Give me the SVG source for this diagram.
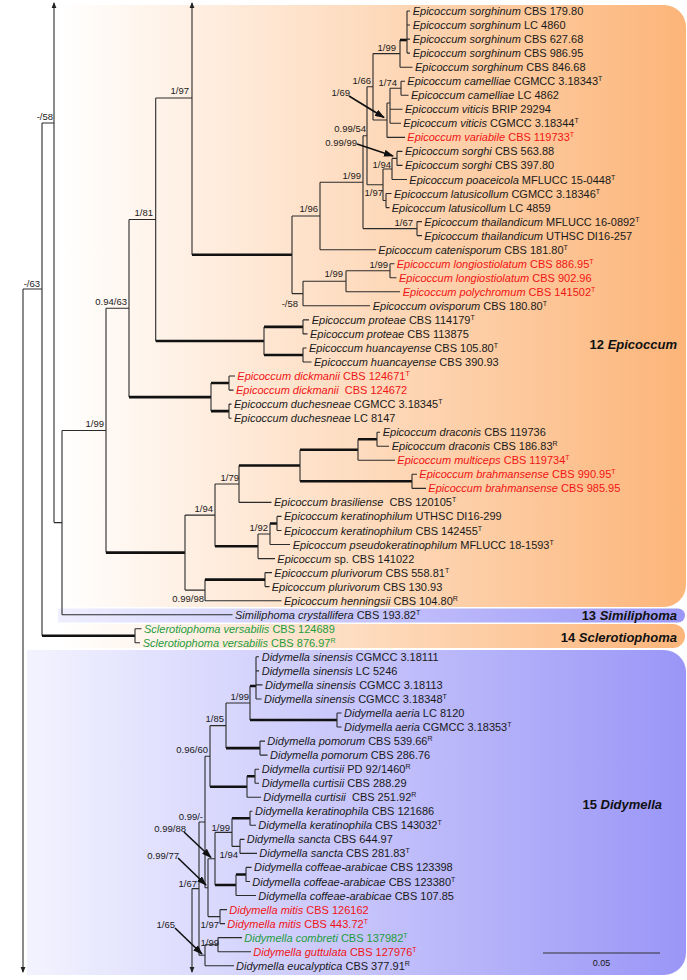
<svg xmlns="http://www.w3.org/2000/svg" width="687" height="980" viewBox="0 0 687 980">
<defs>
<linearGradient id="gOr" gradientUnits="userSpaceOnUse" x1="58" y1="0" x2="686" y2="0"><stop offset="0" stop-color="#ffffff"/><stop offset="1" stop-color="#fcb579"/></linearGradient>
<linearGradient id="gBl" gradientUnits="userSpaceOnUse" x1="27" y1="0" x2="686" y2="0"><stop offset="0" stop-color="#f3f3ff"/><stop offset="1" stop-color="#9a96f7"/></linearGradient>
<marker id="ah" markerWidth="10" markerHeight="7" refX="9" refY="3.5" orient="auto" markerUnits="userSpaceOnUse"><path d="M0,0 L10,3.5 L0,7 z" fill="#111"/></marker>
<marker id="tip" markerWidth="6" markerHeight="6" refX="5" refY="3" orient="auto" markerUnits="userSpaceOnUse"><path d="M0,0.6 L6,3 L0,5.4 z" fill="#222"/></marker>
<style>
.br{fill:none;stroke:#2b2b2b;stroke-width:1.1}
.tk{fill:none;stroke:#111;stroke-width:2.6}
.ar{fill:none;stroke:#2b2b2b;stroke-width:1.1;marker-end:url(#tip)}
.ann{fill:none;stroke:#111;stroke-width:1.6;marker-end:url(#ah)}
.tx{font-family:"Liberation Sans",Arial,sans-serif;font-size:11px;fill:#1a1a1a}
.i{font-style:italic}
.sup{font-size:7px}
.red{fill:#f01414}
.grn{fill:#1e9c3c}
.sv{font-family:"Liberation Sans",Arial,sans-serif;font-size:9.5px;fill:#1a1a1a;text-anchor:end}
.cl{font-family:"Liberation Sans",Arial,sans-serif;font-size:13px;font-weight:bold;fill:#111;text-anchor:end}
.sc{font-family:"Liberation Sans",Arial,sans-serif;font-size:9px;fill:#1a1a1a;text-anchor:middle}
</style>
</defs>
<g id="bands">
<path d="M58,5 H664 A22,22 0 0 1 686,27 V585 A22,22 0 0 1 664,607 H58 Z" fill="url(#gOr)"/>
<path d="M58,608.5 H678 A7,7 0 0 1 678,622.5 H58 Z" fill="url(#gBl)"/>
<path d="M45,624 H673 A12,12 0 0 1 673,648 H45 Z" fill="url(#gOr)"/>
<path d="M27,650 H664 A22,22 0 0 1 686,672 V953 A22,22 0 0 1 664,975 H27 Z" fill="url(#gBl)"/>
</g>
<g id="connectors">
<path class="br" d="M23,289 H42 M42,123 V635.8 M42,123 H54 M54,522.6 H62 M62,430.5 V614.7"/>
<path class="ar" d="M23,289 V972"/>
<path class="ar" d="M54,522.6 V3"/>
<path class="ar" d="M192,254.8 V3"/>
<path class="ar" d="M192,888.6 V972"/>
<path class="tk" d="M42,635.8 H135"/>
<path class="br" d="M135,628.8 V642.8 M135,628.8 H141.5 M135,642.8 H140 M62,614.7 H232.5"/>
<path class="br" d="M62,430.5 H106 M106,308.3 V552.6 M106,308.3 H129 M129,219.5 V397.1 M129,219.5 H155.7 M155.7,98 V341 M155.7,98 H192"/>
<path class="tk" d="M192,254.8 H292"/>
<path class="br" d="M292,216 V293.6 M292,216 H320 M320,182.2 V249.7 M320,249.7 H376 M320,182.2 H363 M363,135.8 V228.6 M363,228.6 H417 M417,221.6 V235.6 M417,221.6 H422 M417,235.6 H422"/>
<path class="br" d="M363,135.8 H367 M367,86.8 V184.7 M367,86.8 H373 M373,53.6 V120 M373,53.6 H400 M400,40 V67.2 M400,67.2 H412.5"/>
<path class="tk" d="M400,40 H407"/>
<path class="br" d="M407,11 V53.1 M407,11 H410 M407,25 H410 M407,39.1 H410 M407,53.1 H410"/>
<path class="br" d="M373,120 H387 M387,103 V137.4 M387,137.4 H405 M387,103 H390 M390,88.2 V123.3 M390,88.2 H401 M401,81.2 V95.2 M401,81.2 H405 M401,95.2 H408.5 M390,109.3 H402.5 M390,123.3 H401"/>
<path class="br" d="M367,184.7 H383 M383,169 V200.5 M383,169 H392 M392,158.4 V179.5 M392,158.4 H397 M397,151.4 V165.4 M397,151.4 H402.5 M397,165.4 H402.5 M392,179.5 H407 M383,200.5 H386 M386,193.5 V207.6 M386,193.5 H391.5 M386,207.6 H389.5"/>
<path class="br" d="M292,293.6 H303 M303,281.3 V305.8 M303,305.8 H370 M303,281.3 H346 M346,270.7 V291.8 M346,270.7 H390 M390,263.7 V277.8 M390,263.7 H394.5 M390,277.8 H396.5 M346,291.8 H400"/>
<path class="tk" d="M155.7,341 H264 M264,326.9 H303 M264,355 H303"/>
<path class="br" d="M264,326.9 V355 M303,319.9 V333.9 M303,319.9 H309 M303,333.9 H307.5 M303,348 V362 M303,348 H306.5 M303,362 H311.5"/>
<path class="tk" d="M129,397.1 H211 M211,383 H229 M211,411.1 H229"/>
<path class="br" d="M211,383 V411.1 M229,376 V390.1 M229,376 H235 M229,390.1 H233.5 M229,404.1 V418.2 M229,404.1 H231.5 M229,418.2 H231.5"/>
<path class="tk" d="M106,552.6 H185"/>
<path class="br" d="M185,515.1 V590.1 M185,515.1 H215 M215,484 V546.3 M215,484 H239 M239,465.5 V502.4 M239,502.4 H271.5"/>
<path class="tk" d="M239,465.5 H300 M300,449.7 H358 M358,439.2 H377 M300,481.3 H412"/>
<path class="br" d="M300,449.7 V481.3 M358,439.2 V460.3 M377,432.2 V446.2 M377,432.2 H380 M377,446.2 H389 M358,460.3 H395 M412,474.3 V488.4 M412,474.3 H417 M412,488.4 H426"/>
<path class="tk" d="M215,546.3 H258 M270,523.5 H277"/>
<path class="br" d="M258,534 V558.6 M258,534 H270 M270,523.5 V544.5 M277,516.4 V530.5 M277,516.4 H281.5 M277,530.5 H281.5 M270,544.5 H290 M258,558.6 H275"/>
<path class="br" d="M185,590.1 H205 M205,579.6 V600.7 M265,572.6 V586.6 M265,572.6 H272 M265,586.6 H269.5 M205,600.7 H281.5"/>
<path class="tk" d="M205,579.6 H265"/>
<path class="tk" d="M250,686 H256 M250,720 H337 M226,748.1 H260 M210,786.7 H247 M247,776.2 H255 M232,818.3 H250 M215,885 H236 M236,874.5 H246"/>
<path class="br" d="M256,656.8 V699 M256,656.8 H259 M256,670.9 H259 M256,684.9 H262.5 M256,699 H261.5 M250,686 V720 M337,713 V727 M337,713 H341.5 M337,727 H341.5 M226,703 H250 M226,703 V748.1 M260,741.1 V755.1 M260,741.1 H265 M260,755.1 H267.5"/>
<path class="br" d="M210,725.6 H226 M210,725.6 V786.7 M247,776.2 V797.2 M255,769.2 V783.2 M255,769.2 H259 M255,783.2 H259 M247,797.2 H261 M205,756.2 H210 M205,756.2 V887.7 M199,822 H205 M199,822 V955.2 M192,888.6 H199"/>
<path class="br" d="M205,887.7 H208 M208,858.7 V916.6 M208,858.7 H215 M215,832.4 V885 M215,832.4 H232 M232,818.3 V846.4 M250,811.3 V825.3 M250,811.3 H252.5 M250,825.3 H256 M232,846.4 H240 M240,839.4 V853.4 M240,839.4 H244.5 M240,853.4 H257 M236,874.5 V895.5 M246,867.4 V881.5 M246,867.4 H251.5 M246,881.5 H250 M236,895.5 H256"/>
<path class="br" d="M208,916.6 H220 M220,909.6 V923.6 M220,909.6 H227 M220,923.6 H225 M199,955.2 H205 M205,944.7 V965.7 M205,944.7 H218 M218,937.6 V951.7 M218,937.6 H242 M218,951.7 H251 M205,965.7 H234"/>
<path class="ann" d="M349,96 L384,117.5"/>
<path class="ann" d="M357,144 L393,156"/>
<path class="ann" d="M184,832 L211,857.5"/>
<path class="ann" d="M178,858 L206,885"/>
<path class="ann" d="M175,928 L202,954"/>
</g>
<g id="supports">
<text class="sv" x="53" y="120">-/58</text>
<text class="sv" x="40" y="286.5">-/63</text>
<text class="sv" x="189" y="94">1/97</text>
<text class="sv" x="153" y="215.5">1/81</text>
<text class="sv" x="127" y="305">0.94/63</text>
<text class="sv" x="104" y="427">1/99</text>
<text class="sv" x="318" y="212">1/96</text>
<text class="sv" x="361" y="178.5">1/99</text>
<text class="sv" x="366" y="132">0.99/54</text>
<text class="sv" x="371" y="83.5">1/66</text>
<text class="sv" x="396" y="51">1/99</text>
<text class="sv" x="397" y="86">1/74</text>
<text class="sv" x="350" y="96">1/69</text>
<text class="sv" x="357" y="145.5">0.99/99</text>
<text class="sv" x="391" y="167.5">1/94</text>
<text class="sv" x="383" y="195.5">1/97</text>
<text class="sv" x="413" y="226">1/67</text>
<text class="sv" x="388" y="268">1/99</text>
<text class="sv" x="343" y="277">1/99</text>
<text class="sv" x="298" y="306.5">-/58</text>
<text class="sv" x="239" y="480.5">1/79</text>
<text class="sv" x="213" y="511.5">1/94</text>
<text class="sv" x="268" y="531">1/92</text>
<text class="sv" x="204" y="601.5">0.99/98</text>
<text class="sv" x="249" y="700">1/99</text>
<text class="sv" x="224" y="721.5">1/85</text>
<text class="sv" x="208" y="753">0.96/60</text>
<text class="sv" x="203" y="820">0.99/-</text>
<text class="sv" x="230" y="831">1/99</text>
<text class="sv" x="186" y="831.5">0.99/88</text>
<text class="sv" x="238" y="858">1/94</text>
<text class="sv" x="179" y="858.5">0.99/77</text>
<text class="sv" x="197" y="887">1/67</text>
<text class="sv" x="219" y="927.5">1/97</text>
<text class="sv" x="175" y="928">1/65</text>
<text class="sv" x="219" y="945.5">1/99</text>
</g>
<g id="t01"><text class="tx" x="412.7" y="15"><tspan class="i">Epicoccum sorghinum</tspan> CBS 179.80</text></g>
<g id="t02"><text class="tx" x="412.7" y="29"><tspan class="i">Epicoccum sorghinum</tspan> LC 4860</text></g>
<g id="t03"><text class="tx" x="412.7" y="43.1"><tspan class="i">Epicoccum sorghinum</tspan> CBS 627.68</text></g>
<g id="t04"><text class="tx" x="412.7" y="57.1"><tspan class="i">Epicoccum sorghinum</tspan> CBS 986.95</text></g>
<g id="t05"><text class="tx" x="415" y="71.2"><tspan class="i">Epicoccum sorghinum</tspan> CBS 846.68</text></g>
<g id="t06"><text class="tx" x="407.3" y="85.2"><tspan class="i">Epicoccum camelliae</tspan> CGMCC 3.18343<tspan class="sup" dy="-4">T</tspan></text></g>
<g id="t07"><text class="tx" x="411" y="99.2"><tspan class="i">Epicoccum camelliae</tspan> LC 4862</text></g>
<g id="t08"><text class="tx" x="405" y="113.3"><tspan class="i">Epicoccum viticis</tspan> BRIP 29294</text></g>
<g id="t09"><text class="tx" x="403.3" y="127.3"><tspan class="i">Epicoccum viticis</tspan> CGMCC 3.18344<tspan class="sup" dy="-4">T</tspan></text></g>
<g id="t10"><text class="tx red" x="407.3" y="141.4"><tspan class="i">Epicoccum variabile</tspan> CBS 119733<tspan class="sup" dy="-4">T</tspan></text></g>
<g id="t11"><text class="tx" x="405" y="155.4"><tspan class="i">Epicoccum sorghi</tspan> CBS 563.88</text></g>
<g id="t12"><text class="tx" x="405" y="169.4"><tspan class="i">Epicoccum sorghi</tspan> CBS 397.80</text></g>
<g id="t13"><text class="tx" x="409.3" y="183.5"><tspan class="i">Epicoccum poaceicola</tspan> MFLUCC 15-0448<tspan class="sup" dy="-4">T</tspan></text></g>
<g id="t14"><text class="tx" x="394" y="197.5"><tspan class="i">Epicoccum latusicollum</tspan> CGMCC 3.18346<tspan class="sup" dy="-4">T</tspan></text></g>
<g id="t15"><text class="tx" x="391.7" y="211.6"><tspan class="i">Epicoccum latusicollum</tspan> LC 4859</text></g>
<g id="t16"><text class="tx" x="424.3" y="225.6"><tspan class="i">Epicoccum thailandicum</tspan> MFLUCC 16-0892<tspan class="sup" dy="-4">T</tspan></text></g>
<g id="t17"><text class="tx" x="424.3" y="239.6"><tspan class="i">Epicoccum thailandicum</tspan> UTHSC DI16-257</text></g>
<g id="t18"><text class="tx" x="378.3" y="253.7"><tspan class="i">Epicoccum catenisporum</tspan> CBS 181.80<tspan class="sup" dy="-4">T</tspan></text></g>
<g id="t19"><text class="tx red" x="396.7" y="267.7"><tspan class="i">Epicoccum longiostiolatum</tspan> CBS 886.95<tspan class="sup" dy="-4">T</tspan></text></g>
<g id="t20"><text class="tx red" x="399" y="281.8"><tspan class="i">Epicoccum longiostiolatum</tspan> CBS 902.96</text></g>
<g id="t21"><text class="tx red" x="402.7" y="295.8"><tspan class="i">Epicoccum polychromum</tspan> CBS 141502<tspan class="sup" dy="-4">T</tspan></text></g>
<g id="t22"><text class="tx" x="372.7" y="309.8"><tspan class="i">Epicoccum ovisporum</tspan> CBS 180.80<tspan class="sup" dy="-4">T</tspan></text></g>
<g id="t23"><text class="tx" x="311.7" y="323.9"><tspan class="i">Epicoccum proteae</tspan> CBS 114179<tspan class="sup" dy="-4">T</tspan></text></g>
<g id="t24"><text class="tx" x="310" y="337.9"><tspan class="i">Epicoccum proteae</tspan> CBS 113875</text></g>
<g id="t25"><text class="tx" x="309" y="352"><tspan class="i">Epicoccum huancayense</tspan> CBS 105.80<tspan class="sup" dy="-4">T</tspan></text></g>
<g id="t26"><text class="tx" x="314" y="366"><tspan class="i">Epicoccum huancayense</tspan> CBS 390.93</text></g>
<g id="t27"><text class="tx red" x="237.3" y="380"><tspan class="i">Epicoccum dickmanii</tspan> CBS 124671<tspan class="sup" dy="-4">T</tspan></text></g>
<g id="t28"><text class="tx red" x="236" y="394.1" xml:space="preserve"><tspan class="i">Epicoccum dickmanii</tspan>  CBS 124672</text></g>
<g id="t29"><text class="tx" x="234" y="408.1"><tspan class="i">Epicoccum duchesneae</tspan> CGMCC 3.18345<tspan class="sup" dy="-4">T</tspan></text></g>
<g id="t30"><text class="tx" x="234" y="422.2"><tspan class="i">Epicoccum duchesneae</tspan> LC 8147</text></g>
<g id="t31"><text class="tx" x="382.7" y="436.2"><tspan class="i">Epicoccum draconis</tspan> CBS 119736</text></g>
<g id="t32"><text class="tx" x="391.7" y="450.2"><tspan class="i">Epicoccum draconis</tspan> CBS 186.83<tspan class="sup" dy="-4">R</tspan></text></g>
<g id="t33"><text class="tx red" x="397.3" y="464.3"><tspan class="i">Epicoccum multiceps</tspan> CBS 119734<tspan class="sup" dy="-4">T</tspan></text></g>
<g id="t34"><text class="tx red" x="419.3" y="478.3"><tspan class="i">Epicoccum brahmansense</tspan> CBS 990.95<tspan class="sup" dy="-4">T</tspan></text></g>
<g id="t35"><text class="tx red" x="428.3" y="492.4"><tspan class="i">Epicoccum brahmansense</tspan> CBS 985.95</text></g>
<g id="t36"><text class="tx" x="274" y="506.4" xml:space="preserve"><tspan class="i">Epicoccum brasiliense</tspan>  CBS 120105<tspan class="sup" dy="-4">T</tspan></text></g>
<g id="t37"><text class="tx" x="284" y="520.4"><tspan class="i">Epicoccum keratinophilum</tspan> UTHSC DI16-299</text></g>
<g id="t38"><text class="tx" x="284" y="534.5"><tspan class="i">Epicoccum keratinophilum</tspan> CBS 142455<tspan class="sup" dy="-4">T</tspan></text></g>
<g id="t39"><text class="tx" x="292.7" y="548.5"><tspan class="i">Epicoccum pseudokeratinophilum</tspan> MFLUCC 18-1593<tspan class="sup" dy="-4">T</tspan></text></g>
<g id="t40"><text class="tx" x="277.3" y="562.6"><tspan class="i">Epicoccum</tspan> sp. CBS 141022</text></g>
<g id="t41"><text class="tx" x="274.3" y="576.6"><tspan class="i">Epicoccum plurivorum</tspan> CBS 558.81<tspan class="sup" dy="-4">T</tspan></text></g>
<g id="t42"><text class="tx" x="271.7" y="590.6"><tspan class="i">Epicoccum plurivorum</tspan> CBS 130.93</text></g>
<g id="t43"><text class="tx" x="284" y="604.7"><tspan class="i">Epicoccum henningsii</tspan> CBS 104.80<tspan class="sup" dy="-4">R</tspan></text></g>
<g id="t44"><text class="tx" x="235" y="618.7"><tspan class="i">Similiphoma crystallifera</tspan> CBS 193.82<tspan class="sup" dy="-4">T</tspan></text></g>
<g id="t45"><text class="tx grn" x="144" y="632.8"><tspan class="i">Sclerotiophoma versabilis</tspan> CBS 124689</text></g>
<g id="t46"><text class="tx grn" x="142.7" y="646.8"><tspan class="i">Sclerotiophoma versabilis</tspan> CBS 876.97<tspan class="sup" dy="-4">R</tspan></text></g>
<g id="t47"><text class="tx" x="261.7" y="660.8"><tspan class="i">Didymella sinensis</tspan> CGMCC 3.18111</text></g>
<g id="t48"><text class="tx" x="261.7" y="674.9"><tspan class="i">Didymella sinensis</tspan> LC 5246</text></g>
<g id="t49"><text class="tx" x="265" y="688.9"><tspan class="i">Didymella sinensis</tspan> CGMCC 3.18113</text></g>
<g id="t50"><text class="tx" x="264" y="703"><tspan class="i">Didymella sinensis</tspan> CGMCC 3.18348<tspan class="sup" dy="-4">T</tspan></text></g>
<g id="t51"><text class="tx" x="344" y="717"><tspan class="i">Didymella aeria</tspan> LC 8120</text></g>
<g id="t52"><text class="tx" x="344" y="731"><tspan class="i">Didymella aeria</tspan> CGMCC 3.18353<tspan class="sup" dy="-4">T</tspan></text></g>
<g id="t53"><text class="tx" x="267.3" y="745.1"><tspan class="i">Didymella pomorum</tspan> CBS 539.66<tspan class="sup" dy="-4">R</tspan></text></g>
<g id="t54"><text class="tx" x="270" y="759.1"><tspan class="i">Didymella pomorum</tspan> CBS 286.76</text></g>
<g id="t55"><text class="tx" x="261.7" y="773.2"><tspan class="i">Didymella curtisii</tspan> PD 92/1460<tspan class="sup" dy="-4">R</tspan></text></g>
<g id="t56"><text class="tx" x="261.7" y="787.2"><tspan class="i">Didymella curtisii</tspan> CBS 288.29</text></g>
<g id="t57"><text class="tx" x="263.3" y="801.2" xml:space="preserve"><tspan class="i">Didymella curtisii</tspan>  CBS 251.92<tspan class="sup" dy="-4">R</tspan></text></g>
<g id="t58"><text class="tx" x="255" y="815.3"><tspan class="i">Didymella keratinophila</tspan> CBS 121686</text></g>
<g id="t59"><text class="tx" x="258.3" y="829.3"><tspan class="i">Didymella keratinophila</tspan> CBS 143032<tspan class="sup" dy="-4">T</tspan></text></g>
<g id="t60"><text class="tx" x="246.7" y="843.4"><tspan class="i">Didymella sancta</tspan> CBS 644.97</text></g>
<g id="t61"><text class="tx" x="259.3" y="857.4"><tspan class="i">Didymella sancta</tspan> CBS 281.83<tspan class="sup" dy="-4">T</tspan></text></g>
<g id="t62"><text class="tx" x="254" y="871.4"><tspan class="i">Didymella coffeae-arabicae</tspan> CBS 123398</text></g>
<g id="t63"><text class="tx" x="252.3" y="885.5"><tspan class="i">Didymella coffeae-arabicae</tspan> CBS 123380<tspan class="sup" dy="-4">T</tspan></text></g>
<g id="t64"><text class="tx" x="258.3" y="899.5"><tspan class="i">Didymella coffeae-arabicae</tspan> CBS 107.85</text></g>
<g id="t65"><text class="tx red" x="229.3" y="913.6"><tspan class="i">Didymella mitis</tspan> CBS 126162</text></g>
<g id="t66"><text class="tx red" x="227.3" y="927.6"><tspan class="i">Didymella mitis</tspan> CBS 443.72<tspan class="sup" dy="-4">T</tspan></text></g>
<g id="t67"><text class="tx grn" x="244.3" y="941.6"><tspan class="i">Didymella combreti</tspan> CBS 137982<tspan class="sup" dy="-4">T</tspan></text></g>
<g id="t68"><text class="tx red" x="253.3" y="955.7"><tspan class="i">Didymella guttulata</tspan> CBS 127976<tspan class="sup" dy="-4">T</tspan></text></g>
<g id="t69"><text class="tx" x="236" y="969.7"><tspan class="i">Didymella eucalyptica</tspan> CBS 377.91<tspan class="sup" dy="-4">R</tspan></text></g>
<g id="clade12"><text class="cl" x="677" y="349">12 <tspan class="i">Epicoccum</tspan></text></g>
<g id="clade13"><text class="cl" x="677" y="620">13 <tspan class="i">Similiphoma</tspan></text></g>
<g id="clade14"><text class="cl" x="677" y="641.5">14 <tspan class="i">Sclerotiophoma</tspan></text></g>
<g id="clade15"><text class="cl" x="662" y="809">15 <tspan class="i">Didymella</tspan></text></g>
<g id="scalebar">
<path d="M543,953 H660" fill="none" stroke="#333" stroke-width="1.2"/>
<text class="sc" x="601.5" y="966">0.05</text>
</g>
</svg>
